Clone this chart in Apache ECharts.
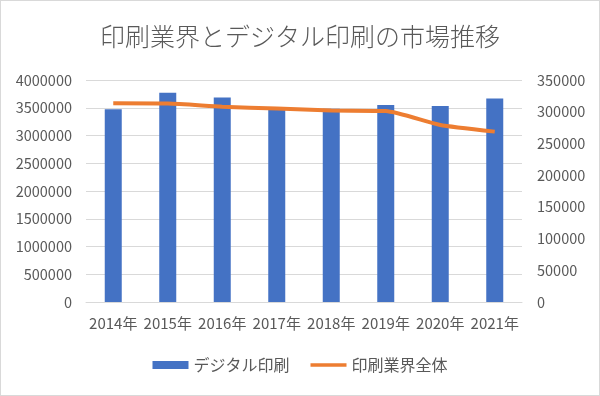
<!DOCTYPE html>
<html>
<head>
<meta charset="utf-8">
<script src="https://cdn.jsdelivr.net/npm/echarts@6/dist/echarts.min.js"></script>
<style>
  html, body { margin: 0; padding: 0; background: #fff; }
  #chart { width: 598px; height: 394px; border: 1px solid #d9d9d9; }
</style>
</head>
<body>
<div id="chart"></div>
<script>
// 年
const years = ['2014年', '2015年', '2016年', '2017年', '2018年', '2019年', '2020年', '2021年']
// デジタル印刷（右軸）
const digital = [304000, 330000, 322500, 303500, 304500, 310500, 309000, 321000]
// 印刷業界全体（左軸）
const total = [3580000, 3575000, 3520000, 3485000, 3450000, 3440000, 3190000, 3070000]

const fontFamily = '"Noto Sans CJK JP", "Noto Sans", sans-serif'
const textColor = '#595959'

const chart = echarts.init(document.getElementById('chart'))
chart.setOption({
  animation: false,
  textStyle: { fontFamily: fontFamily },
  title: {
    text: '印刷業界とデジタル印刷の市場推移',
    left: 'center',
    top: 18,
    textStyle: { fontSize: 25, fontWeight: 300, color: textColor, fontFamily: fontFamily }
  },
  legend: {
    bottom: 17,
    left: 'center',
    itemGap: 21,
    itemWidth: 36,
    itemHeight: 8,
    textStyle: { fontSize: 16, color: textColor },
    data: [
      { name: 'デジタル印刷', icon: 'rect' },
      { name: '印刷業界全体', icon: 'path://M0,0 L10,0 L10,1 L0,1 Z', itemStyle: { color: '#ed7d31' } }
    ]
  },
  grid: { left: 85, right: 77, top: 79, bottom: 93 },
  xAxis: {
    type: 'category',
    data: years,
    axisLine: { lineStyle: { color: '#d9d9d9' } },
    axisTick: { show: false },
    axisLabel: { fontSize: 15, color: textColor, margin: 14, interval: 0 }
  },
  yAxis: [
    {
      type: 'value',
      min: 0, max: 4000000, interval: 500000,
      axisLine: { show: false },
      axisTick: { show: false },
      axisLabel: { fontSize: 14.5, color: textColor, margin: 14, formatter: v => String(v) },
      splitLine: { lineStyle: { color: '#d9d9d9' } }
    },
    {
      type: 'value',
      min: 0, max: 350000, interval: 50000,
      axisLine: { show: false },
      axisTick: { show: false },
      axisLabel: { fontSize: 14.5, color: textColor, margin: 15, formatter: v => String(v) },
      splitLine: { show: false }
    }
  ],
  series: [
    {
      name: 'デジタル印刷',
      type: 'bar',
      yAxisIndex: 1,
      data: digital,
      barWidth: 17,
      itemStyle: { color: '#4472c4' }
    },
    {
      name: '印刷業界全体',
      type: 'line',
      yAxisIndex: 0,
      data: total,
      smooth: 0.2,
      symbol: 'none',
      lineStyle: { color: '#ed7d31', width: 4 },
      itemStyle: { color: '#ed7d31' }
    }
  ]
})
</script>
</body>
</html>
